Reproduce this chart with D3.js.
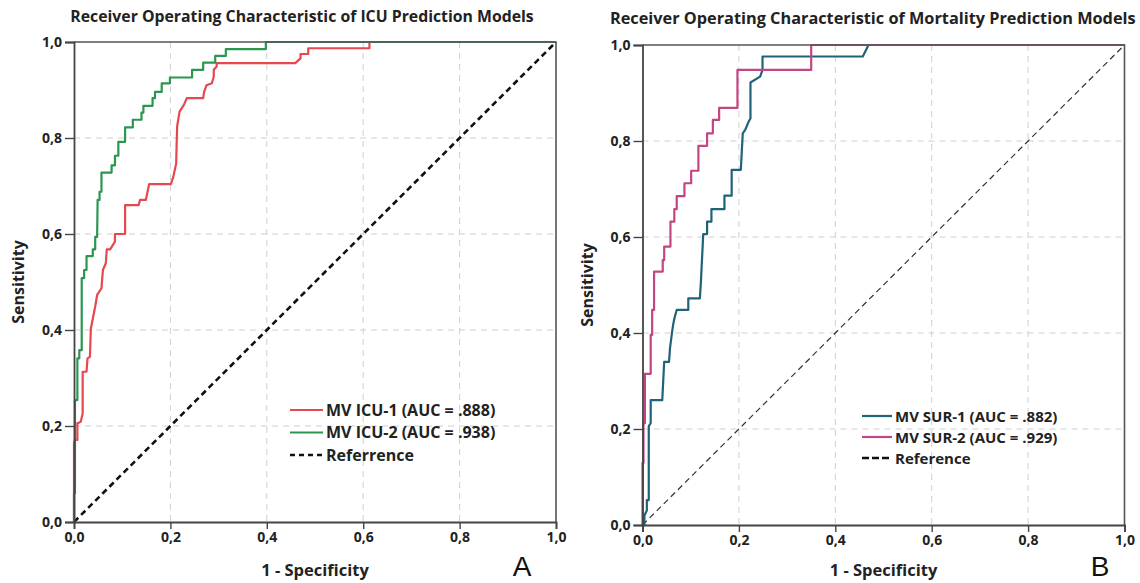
<!DOCTYPE html>
<html>
<head>
<meta charset="utf-8">
<script src="https://cdn.jsdelivr.net/npm/d3@7"></script>
<style>
  body { margin: 0; background: #fff; }
  svg { display: block; font-family: "Open Sans", "Noto Sans", sans-serif; }
  .tick text { font-weight: 700; font-size: 14px; fill: #222; }
</style>
</head>
<body>
<svg id="plot" width="1140" height="583"></svg>
<script>
// tick values shared by both panels
var tickValues = [0, 0.2, 0.4, 0.6, 0.8, 1.0];

// ROC vertices [1 - specificity, sensitivity]
var icu1 = [[0,0],[0,0.164],[0.002,0.171],[0.007,0.171],[0.007,0.206],[0.009,0.206],[0.014,0.209],[0.018,0.226],
  [0.018,0.313],[0.026,0.313],[0.028,0.341],[0.033,0.344],[0.035,0.403],[0.044,0.449],[0.048,0.473],[0.057,0.487],
  [0.060,0.525],[0.066,0.539],[0.068,0.568],[0.075,0.568],[0.085,0.584],[0.085,0.600],[0.106,0.600],[0.106,0.660],
  [0.134,0.660],[0.137,0.671],[0.149,0.671],[0.156,0.704],[0.201,0.704],[0.206,0.719],[0.212,0.747],[0.213,0.789],
  [0.214,0.824],[0.219,0.855],[0.228,0.869],[0.234,0.883],[0.268,0.883],[0.270,0.896],[0.275,0.910],[0.286,0.914],
  [0.290,0.928],[0.290,0.942],[0.296,0.949],[0.296,0.956],[0.459,0.956],[0.470,0.966],[0.470,0.975],[0.486,0.975],
  [0.486,0.987],[0.613,0.987],[0.613,1],[1,1]];

var icu2 = [[0,0],[0,0.06],[0.002,0.06],[0.002,0.254],[0.007,0.254],[0.007,0.341],[0.011,0.341],[0.011,0.358],
  [0.016,0.358],[0.016,0.508],[0.021,0.508],[0.021,0.525],[0.026,0.525],[0.026,0.554],[0.039,0.554],[0.039,0.568],
  [0.044,0.568],[0.044,0.594],[0.048,0.594],[0.049,0.671],[0.053,0.671],[0.053,0.688],[0.057,0.688],[0.057,0.728],
  [0.078,0.728],[0.078,0.743],[0.085,0.743],[0.085,0.763],[0.092,0.763],[0.092,0.792],[0.106,0.792],[0.106,0.822],
  [0.122,0.822],[0.122,0.838],[0.140,0.838],[0.140,0.853],[0.144,0.853],[0.144,0.867],[0.163,0.867],[0.163,0.883],
  [0.168,0.883],[0.168,0.896],[0.182,0.896],[0.182,0.914],[0.199,0.914],[0.199,0.926],[0.245,0.926],[0.245,0.942],
  [0.268,0.942],[0.268,0.957],[0.293,0.957],[0.293,0.971],[0.315,0.971],[0.315,0.985],[0.398,0.985],[0.398,1],[1,1]];

var sur1 = [[0.004,0],[0.004,0.02],[0.009,0.03],[0.009,0.052],[0.013,0.052],[0.013,0.206],[0.017,0.212],[0.017,0.260],
  [0.041,0.260],[0.043,0.300],[0.045,0.340],[0.055,0.340],[0.057,0.368],[0.061,0.399],[0.064,0.420],[0.067,0.434],
  [0.071,0.448],[0.095,0.448],[0.095,0.472],[0.119,0.472],[0.121,0.503],[0.126,0.606],[0.134,0.606],[0.134,0.632],
  [0.143,0.632],[0.143,0.658],[0.170,0.658],[0.170,0.686],[0.185,0.686],[0.185,0.740],[0.204,0.740],[0.208,0.816],
  [0.213,0.823],[0.220,0.840],[0.224,0.847],[0.224,0.922],[0.244,0.934],[0.249,0.948],[0.249,0.976],[0.457,0.976],
  [0.469,1],[1,1]];

var sur2 = [[0,0],[0,0.129],[0.002,0.129],[0.002,0.212],[0.005,0.212],[0.005,0.315],[0.017,0.315],[0.017,0.396],
  [0.020,0.396],[0.020,0.448],[0.024,0.448],[0.024,0.528],[0.042,0.528],[0.042,0.552],[0.045,0.552],[0.045,0.580],
  [0.058,0.580],[0.058,0.632],[0.066,0.632],[0.066,0.658],[0.071,0.658],[0.071,0.685],[0.087,0.685],[0.087,0.712],
  [0.101,0.712],[0.101,0.738],[0.116,0.738],[0.116,0.790],[0.134,0.790],[0.134,0.816],[0.146,0.816],[0.146,0.844],
  [0.159,0.844],[0.159,0.869],[0.197,0.869],[0.197,0.948],[0.350,0.948],[0.350,1],[1,1]];

var refLine = [[0,0],[1,1]];

var svg = d3.select('#plot');
var fmt = function (d) { return d3.format('.1f')(d).replace('.', ','); };

/* draws one ROC panel; cfg holds geometry and series */
function drawPanel(cfg) {
  var x = d3.scaleLinear().domain([0, 1]).range([cfg.left, cfg.right]);
  var y = d3.scaleLinear().domain([0, 1]).range([cfg.bottom, cfg.top]);
  var g = svg.append('g');

  // dashed grid
  var inner = tickValues.slice(1, -1);
  g.selectAll('.vgrid').data(inner).enter().append('line')
    .attr('x1', x).attr('x2', x).attr('y1', cfg.top).attr('y2', cfg.bottom)
    .attr('stroke', '#cfcfcf').attr('stroke-dasharray', '6,5');
  g.selectAll('.hgrid').data(inner).enter().append('line')
    .attr('y1', y).attr('y2', y).attr('x1', cfg.left).attr('x2', cfg.right)
    .attr('stroke', '#cfcfcf').attr('stroke-dasharray', '6,5');

  // reference diagonal
  var line = d3.line().x(function (d) { return x(d[0]); }).y(function (d) { return y(d[1]); });
  g.append('path').datum(refLine).attr('d', line).attr('fill', 'none')
    .attr('stroke', cfg.refColor).attr('stroke-width', cfg.refWidth)
    .attr('stroke-dasharray', cfg.refDash);

  // curves
  cfg.series.forEach(function (s) {
    g.append('path').datum(s.data).attr('d', line).attr('fill', 'none')
      .attr('stroke', s.color).attr('stroke-width', 2.2).attr('stroke-linejoin', 'round');
  });

  // frame (top and right)
  g.append('path')
    .attr('d', 'M' + cfg.left + ',' + cfg.top + 'H' + cfg.right + 'V' + cfg.bottom)
    .attr('fill', 'none').attr('stroke', '#555').attr('stroke-width', 1.6);

  // axes
  var xAxis = d3.axisBottom(x).tickValues(tickValues).tickFormat(fmt).tickSize(7).tickPadding(3);
  var yAxis = d3.axisLeft(y).tickValues(tickValues).tickFormat(fmt).tickSize(9).tickPadding(3);
  var xa = g.append('g').attr('transform', 'translate(0,' + cfg.bottom + ')').call(xAxis);
  var ya = g.append('g').attr('transform', 'translate(' + cfg.left + ',0)').call(yAxis);
  [xa, ya].forEach(function (a) {
    a.select('.domain').attr('stroke', '#444').attr('stroke-width', 1.8);
    a.selectAll('.tick line').attr('stroke', '#444').attr('stroke-width', 1.4);
    a.attr('font-family', null).attr('font-size', null);
  });

  // titles and axis labels
  g.append('text').attr('x', cfg.titleX).attr('y', cfg.titleY)
    .attr('text-anchor', cfg.titleAnchor).attr('font-weight', 700).attr('font-size', cfg.titleSize)
    .attr('fill', '#222').text(cfg.title);
  g.append('text').attr('x', (cfg.left + cfg.right) / 2).attr('y', 576)
    .attr('text-anchor', 'middle').attr('font-weight', 700).attr('font-size', 16.5)
    .attr('fill', '#222').text('1 - Specificity');
  g.append('text').attr('transform', 'translate(' + (cfg.left - 50) + ',' + ((cfg.top + cfg.bottom) / 2) + ') rotate(-90)')
    .attr('text-anchor', 'middle').attr('font-weight', 700).attr('font-size', 16)
    .attr('fill', '#222').text('Sensitivity');
  g.append('text').attr('x', cfg.letterX).attr('y', 576)
    .attr('text-anchor', 'middle').attr('font-size', 28).attr('font-family', 'Liberation Sans, Arial, sans-serif')
    .attr('fill', '#111').text(cfg.letter);

  // legend
  var items = cfg.series.map(function (s) { return { label: s.label, color: s.color, dash: null, w: 2.2 }; });
  items.push({ label: cfg.refLabel, color: '#111', dash: cfg.legendDash, w: 2.6 });
  var lg = g.append('g');
  items.forEach(function (it, i) {
    var yy = cfg.legendY + i * cfg.legendStep;
    lg.append('line').attr('x1', cfg.legendX).attr('x2', cfg.legendX + cfg.legendLine)
      .attr('y1', yy).attr('y2', yy).attr('stroke', it.color).attr('stroke-width', it.w)
      .attr('stroke-dasharray', it.dash);
    lg.append('text').attr('x', cfg.legendX + cfg.legendLine + 3).attr('y', yy + 5.5)
      .attr('font-weight', 700).attr('font-size', cfg.legendSize).attr('fill', '#222').text(it.label);
  });
}

drawPanel({
  left: 74, right: 556, top: 42, bottom: 522,
  title: 'Receiver Operating Characteristic of ICU Prediction Models',
  titleX: 302, titleY: 22, titleAnchor: 'middle', titleSize: 15.8,
  letter: 'A', letterX: 522,
  refColor: '#111', refWidth: 2.6, refDash: '6,4', refLabel: 'Referrence', legendDash: '5,4',
  legendX: 290, legendY: 410, legendStep: 22.5, legendLine: 33, legendSize: 16,
  series: [
    { data: icu1, color: '#e5484d', label: 'MV ICU-1 (AUC = .888)' },
    { data: icu2, color: '#2a9650', label: 'MV ICU-2 (AUC = .938)' }
  ]
});

drawPanel({
  left: 642.5, right: 1124.5, top: 45, bottom: 525,
  title: 'Receiver Operating Characteristic of Mortality Prediction Models',
  titleX: 610, titleY: 24, titleAnchor: 'start', titleSize: 16.3,
  letter: 'B', letterX: 1100,
  refColor: '#333', refWidth: 1.2, refDash: '6,4', refLabel: 'Reference', legendDash: '7,3',
  legendX: 862, legendY: 416, legendStep: 21, legendLine: 30, legendSize: 15,
  series: [
    { data: sur1, color: '#1f6379', label: 'MV SUR-1 (AUC = .882)' },
    { data: sur2, color: '#c24683', label: 'MV SUR-2 (AUC = .929)' }
  ]
});
</script>
</body>
</html>
